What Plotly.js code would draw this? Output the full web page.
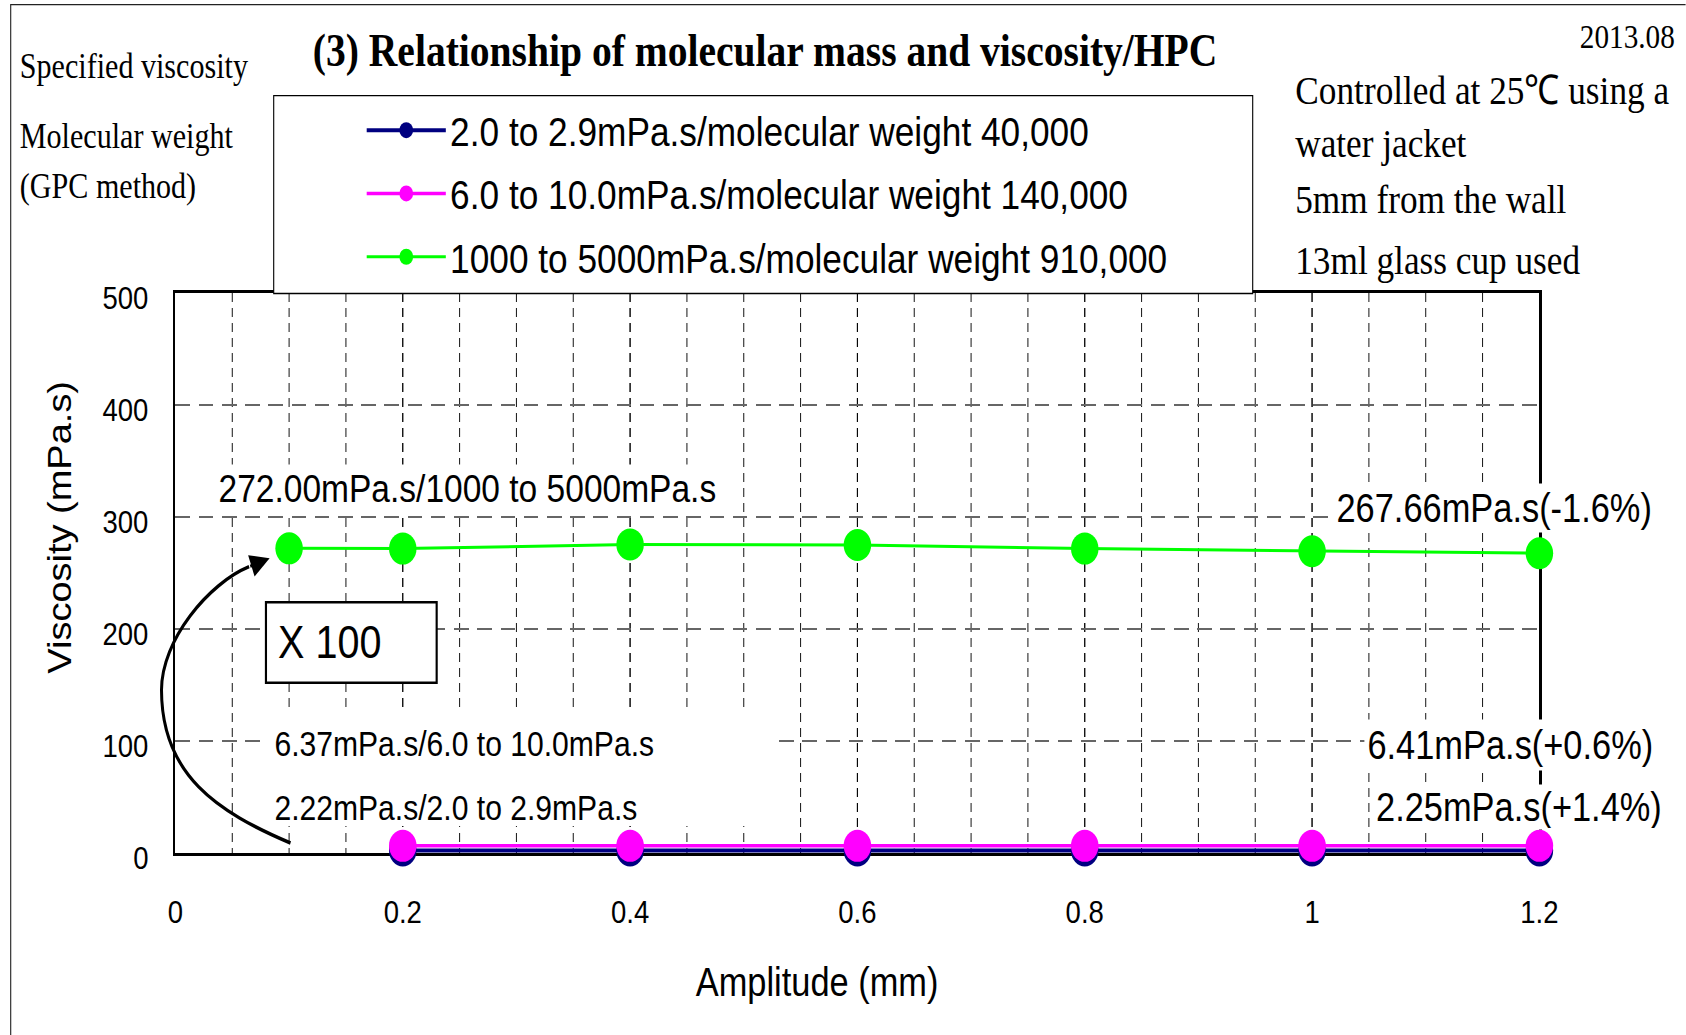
<!DOCTYPE html>
<html>
<head>
<meta charset="utf-8">
<script src="https://cdn.plot.ly/plotly-3.0.1.min.js"></script>
<style>
  html, body { margin: 0; padding: 0; overflow: hidden; background: #fff; }
  #chart { width: 1960px; height: 1035px; transform: scaleX(0.86); transform-origin: 0 0; }
</style>
</head>
<body>
<div id="chart"></div>
<script>
// ---------------- data ----------------
const amplitudeLow  = [0.2, 0.4, 0.6, 0.8, 1.0, 1.2];
const amplitudeHigh = [0.1, 0.2, 0.4, 0.6, 0.8, 1.0, 1.2];
const viscosity2    = [2.22, 2.22, 2.23, 2.24, 2.24, 2.25];
const viscosity6    = [6.37, 6.38, 6.39, 6.40, 6.40, 6.41];
const viscosity1000 = [272.00, 271.8, 275.4, 275.0, 271.8, 269.4, 267.66];
const seriesNames = [
  "2.0 to 2.9mPa.s/molecular weight 40,000",
  "6.0 to 10.0mPa.s/molecular weight 140,000",
  "1000 to 5000mPa.s/molecular weight 910,000"
];
const seriesColors = ["#000080", "#FF00FF", "#00FF00"];
const xTickVals = [0, 0.2, 0.4, 0.6, 0.8, 1.0, 1.2];
const xTickText = ["0", "0.2", "0.4", "0.6", "0.8", "1", "1.2"];
const yTickVals = [0, 100, 200, 300, 400, 500];
const noteLeft  = ["Specified viscosity", "Molecular weight", "(GPC method)"];
const noteRight = ["Controlled at 25\u2103 using a", "water jacket", "5mm from the wall", "13ml glass cup used"];
const dateText = "2013.08";
const pointLabels = {
  greenStart: "272.00mPa.s/1000 to 5000mPa.s",
  greenEnd: "267.66mPa.s(-1.6%)",
  pinkStart: "6.37mPa.s/6.0 to 10.0mPa.s",
  blueStart: "2.22mPa.s/2.0 to 2.9mPa.s",
  pinkEnd: "6.41mPa.s(+0.6%)",
  blueEnd: "2.25mPa.s(+1.4%)"
};

// ---------------- geometry helpers ----------------
const S = 0.86;                 // horizontal squeeze of the whole picture
const W = 1960, H = 1035;
const ML = 204, MR = 170, MT = 293, MB = 182;
const PW = W - ML - MR, PH = H - MT - MB;
const PX = xf => (xf / S - ML) / PW;     // page pixel x -> paper
const PY = yf => (H - MB - yf) / PH;     // page pixel y -> paper

const SANS = "Liberation Sans, Arial, sans-serif";
const SERIF = "Liberation Serif, Times New Roman, serif";

function ann(text, xf, yf, o) {
  return Object.assign({
    text: text, x: PX(xf), y: PY(yf), xref: "paper", yref: "paper",
    xanchor: "left", yanchor: "middle", showarrow: false,
    font: {family: SANS, size: 36, color: "#000"}
  }, o || {});
}

// ---------------- traces ----------------
const mk = (name, x, y, color, lw, grp) => ({
  type: "scatter", mode: "lines+markers", name: name, x: x, y: y,
  legendgroup: grp, cliponaxis: false, hoverinfo: "skip",
  line: {color: color, width: lw},
  marker: {color: color, size: 32, symbol: "circle", line: {width: 0}}
});
const data = [
  mk(seriesNames[0], amplitudeLow, viscosity2, seriesColors[0], 4, "a"),
  mk(seriesNames[1], amplitudeLow, viscosity6, seriesColors[1], 3.5, "b"),
  mk(seriesNames[2], amplitudeHigh, viscosity1000, seriesColors[2], 3, "c")
];

// ---------------- decorations ----------------
const curvePts = [[290.5,843],[217.4,812],[161.5,775],[161.5,690],[161.5,640],[208.6,583.4],[249.1,566.7]];
const cp = p => PX(p[0]) + "," + PY(p[1]);
const curvePath = "M" + cp(curvePts[0]) +
  " C" + cp(curvePts[1]) + " " + cp(curvePts[2]) + " " + cp(curvePts[3]) +
  " C" + cp(curvePts[4]) + " " + cp(curvePts[5]) + " " + cp(curvePts[6]);

const shapes = [
  {type: "path", xref: "paper", yref: "paper", layer: "above",
   path: "M" + PX(10.7) + "," + PY(1060) + " L" + PX(10.7) + "," + PY(4.7) + " L" + PX(1700) + "," + PY(4.7),
   line: {color: "#222", width: 1.3}},
  {type: "rect", xref: "paper", yref: "paper", layer: "above",
   x0: PX(273.7), x1: PX(1252.7), y0: PY(293.5), y1: PY(95.7),
   fillcolor: "#fff", line: {color: "#000", width: 1.3}},
  {type: "rect", xref: "paper", yref: "paper", layer: "above",
   x0: PX(262), x1: PX(774), y0: PY(826), y1: PY(708),
   fillcolor: "#fff", line: {width: 0}},
  {type: "path", xref: "paper", yref: "paper", layer: "above",
   path: curvePath, line: {color: "#000", width: 3.5}}
];

const annotations = [
  ann(noteLeft[0], 18, 66, {font: {family: SERIF, size: 35, color: "#000"}}),
  ann(noteLeft[1], 18, 136.5, {font: {family: SERIF, size: 35, color: "#000"}}),
  ann(noteLeft[2], 18, 186.5, {font: {family: SERIF, size: 35, color: "#000"}}),
  ann(dateText, 1677, 36, {xanchor: "right", font: {family: SERIF, size: 34, color: "#000"}}),
  ann(noteRight[0], 1293.5, 89.5, {font: {family: SERIF, size: 41, color: "#000"}}),
  ann(noteRight[1], 1293.5, 143.5, {font: {family: SERIF, size: 41, color: "#000"}}),
  ann(noteRight[2], 1293.5, 198.5, {font: {family: SERIF, size: 41, color: "#000"}}),
  ann(noteRight[3], 1293.5, 260, {font: {family: SERIF, size: 41, color: "#000"}}),
  ann(pointLabels.greenStart, 216, 488.5, {bgcolor: "#fff", borderpad: 2, font: {family: SANS, size: 39, color: "#000"}}),
  ann(pointLabels.greenEnd, 1334, 507.5, {bgcolor: "#fff", borderpad: 2, font: {family: SANS, size: 40, color: "#000"}}),
  ann(pointLabels.pinkStart, 273, 743.5, {font: {family: SANS, size: 35, color: "#000"}}),
  ann(pointLabels.blueStart, 273, 807.5, {font: {family: SANS, size: 35, color: "#000"}}),
  ann(pointLabels.pinkEnd, 1364, 744.5, {bgcolor: "#fff", borderpad: 3, font: {family: SANS, size: 40, color: "#000"}}),
  ann(pointLabels.blueEnd, 1374, 807, {bgcolor: "#fff", height: 42, borderpad: 1, font: {family: SANS, size: 40, color: "#000"}}),
  ann("&nbsp;X 100", 265, 642, {width: 196, height: 78, align: "left", bgcolor: "#fff",
      bordercolor: "#000", borderwidth: 2.5, borderpad: 0, font: {family: SANS, size: 46, color: "#000"}}),
  ann("Amplitude (mm)", 816.7, 982, {xanchor: "center", font: {family: SANS, size: 40, color: "#000"}}),
  ann("Viscosity (mPa.s)", 59.5, 527.5, {xanchor: "center", textangle: -90, font: {family: SANS, size: 38, color: "#000"}}),
  {text: "", x: PX(269.6), y: PY(558.3), xref: "paper", yref: "paper",
   showarrow: true, ax: -24, ay: 8.5, arrowhead: 2, arrowsize: 1.5, arrowwidth: 3,
   arrowcolor: "#000", standoff: 0}
];

const layout = {
  width: W, height: H,
  margin: {l: ML, r: MR, t: MT, b: MB, pad: 0},
  paper_bgcolor: "#fff", plot_bgcolor: "#fff",
  hovermode: false,
  title: {text: "<b>(3) Relationship of molecular mass and viscosity/HPC</b>",
          xref: "container", yref: "container", x: (711.5 * 1.0753 / S) / W, y: 1 - 50 / H,
          xanchor: "center", yanchor: "middle",
          font: {family: SERIF, size: 46, color: "#000"}},
  xaxis: {
    range: [0, 1.2], tickmode: "array", tickvals: xTickVals, ticktext: xTickText,
    showgrid: true, gridcolor: "#000", gridwidth: 1, griddash: "9px,6px",
    minor: {dtick: 0.05, tick0: 0, showgrid: true, gridcolor: "#000", gridwidth: 1, griddash: "9px,6px"},
    showline: true, linecolor: "#000", linewidth: 3, mirror: true,
    ticks: "", zeroline: false, layer: "below traces",
    ticklabelstandoff: 29, tickfont: {family: SANS, size: 32, color: "#000"}
  },
  yaxis: {
    range: [0, 500], tickmode: "array", tickvals: yTickVals,
    showgrid: true, gridcolor: "#666", gridwidth: 1.3, griddash: "17px,10px",
    showline: true, linecolor: "#000", linewidth: 3, mirror: true,
    ticks: "", zeroline: false, layer: "below traces",
    ticklabelstandoff: 22, ticklabelshift: 5,
    tickfont: {family: SANS, size: 32, color: "#000"}
  },
  showlegend: true,
  legend: {
    x: PX(362.4), y: PY(97), xanchor: "left", yanchor: "top",
    xref: "paper", yref: "paper",
    bgcolor: "rgba(0,0,0,0)", borderwidth: 0,
    itemwidth: 92, tracegroupgap: 7,
    font: {family: SANS, size: 41, color: "#000"}
  },
  shapes: shapes,
  annotations: annotations
};

Plotly.newPlot("chart", data, layout, {staticPlot: true, displayModeBar: false, responsive: false});
</script>
</body>
</html>
